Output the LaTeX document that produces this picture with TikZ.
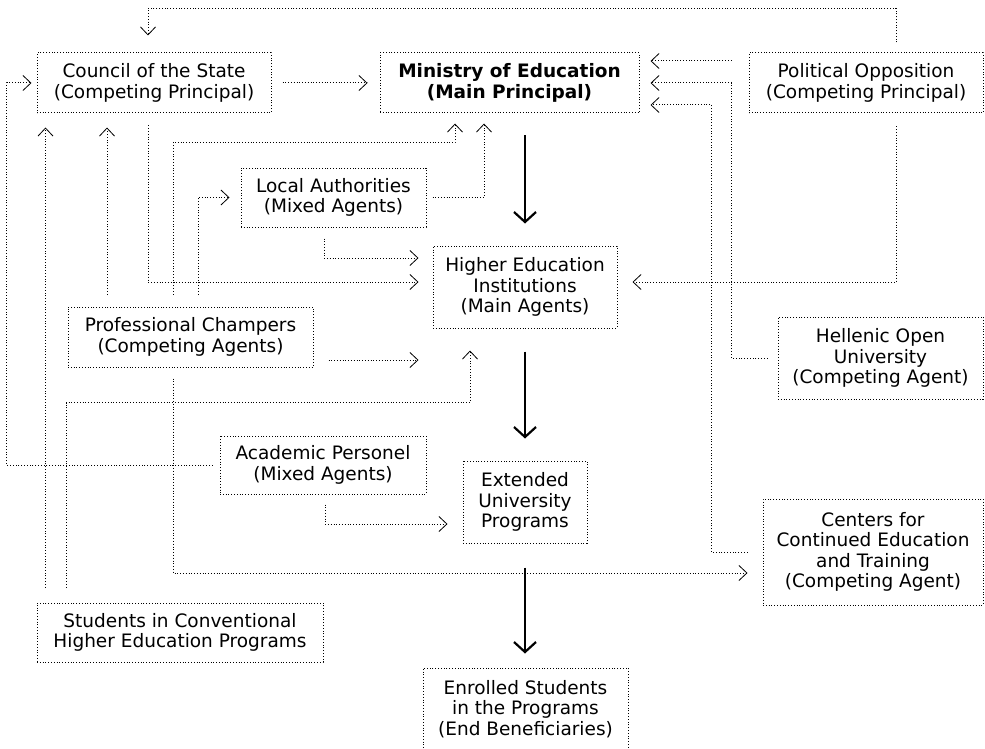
\documentclass[tikz,border=0pt]{standalone}
\usepackage{fontspec}
\setmainfont{DejaVu Sans}
\usetikzlibrary{arrows.meta}
\tikzset{
  box/.style={draw, line width=1pt, dash pattern=on 1pt off 1.8pt, align=center, inner sep=0pt,
    font=\fontsize{18.5}{20.5}\selectfont},
  link/.style={line width=1pt, dash pattern=on 1pt off 1.8pt, -{Straight Barb[length=8pt,width=15pt,line width=0.8pt]}},
  flow/.style={line width=2.2pt, -{Straight Barb[length=10pt,width=22pt]}}
}
\begin{document}
\begin{tikzpicture}[x=1pt,y=-1pt]
\useasboundingbox (0,0) rectangle (985,749);
% principals
\node[box, minimum width=234pt, minimum height=60pt] (council) at (154,83) {Council of the State\\(Competing Principal)};
\node[box, minimum width=259pt, minimum height=60pt] (ministry) at (509.5,83) {\textbf{Ministry of Education}\\\textbf{(Main Principal)}};
\node[box, minimum width=234pt, minimum height=60pt] (opposition) at (866,83) {Political Opposition\\(Competing Principal)};
% agents
\node[box, minimum width=185pt, minimum height=59pt] (local) at (333.5,197.5) {Local Authorities\\(Mixed Agents)};
\node[box, minimum width=184pt, minimum height=82pt] (hei) at (525,287) {Higher Education\\Institutions\\(Main Agents)};
\node[box, minimum width=245pt, minimum height=60pt] (champers) at (190.5,337) {Professional Champers\\(Competing Agents)};
\node[box, minimum width=205pt, minimum height=82pt] (hou) at (880.5,358) {Hellenic Open\\University\\(Competing Agent)};
\node[box, minimum width=206pt, minimum height=58pt] (personel) at (323,465) {Academic Personel\\(Mixed Agents)};
\node[box, minimum width=124pt, minimum height=82pt] (extended) at (525,502) {Extended\\University\\Programs};
\node[box, minimum width=220pt, minimum height=106pt] (centers) at (873,552) {Centers for\\Continued Education\\and Training\\(Competing Agent)};
\node[box, minimum width=286pt, minimum height=59pt] (students) at (180,632.5) {Students in Conventional\\Higher Education Programs};
\node[box, minimum width=205pt, minimum height=82pt] (enrolled) at (525.5,709) {Enrolled Students\\in the Programs\\(End Beneficiaries)};
% main chain
\draw[flow, shorten <=22pt, shorten >=22pt] ([xshift=15.5pt]ministry.south) -- (hei.north);
\draw[flow, shorten <=23pt, shorten >=22pt] (hei.south) -- (extended.north);
\draw[flow, shorten <=24pt, shorten >=14pt] (extended.south) -- ([xshift=-0.5pt]enrolled.north);
% influences on the ministry
\draw[link, shorten <=11pt, shorten >=12pt] (council) -- (ministry);
\draw[link, shorten <=17pt, shorten >=11pt] ([yshift=22pt]opposition.west) -- ([yshift=22pt]opposition.west -| ministry.east);
\draw[link, shorten <=10pt, shorten >=11pt] (hou.west) -| ([xshift=92pt]ministry.east) -- (ministry.east);
\draw[link, shorten <=15pt, shorten >=11pt] (centers.west) -| ([xshift=72pt,yshift=-22pt]ministry.east) -- ([yshift=-22pt]ministry.east);
\draw[link, shorten <=12pt, shorten >=10pt] ([xshift=-17.5pt]champers.north) |- ([xshift=-54.5pt,yshift=-29pt]ministry.south) -- ([xshift=-54.5pt]ministry.south);
\draw[link, shorten <=6pt, shorten >=10pt] (local.east) -| ([xshift=-25.5pt]ministry.south);
% influences on the council
\draw[link, shorten <=10pt, shorten >=17pt] ([xshift=30pt]opposition.north) |- ([xshift=-6pt,yshift=44pt]council.north) -- ([xshift=-6pt]council.north);
\draw[link, shorten <=12pt, shorten >=14pt] ([xshift=-83.5pt]champers.north) -- ([xshift=-83.5pt]champers.north |- council.south);
\draw[link, shorten <=15pt, shorten >=14pt] ([xshift=-134.5pt]students.north) -- ([xshift=-134.5pt]students.north |- council.south);
\draw[link, shorten <=7pt, shorten >=5pt] (personel.west) -| ([xshift=-30pt]council.west) -- (council.west);
% influences on the institutions
\draw[link, shorten <=13pt, shorten >=15pt] ([xshift=30pt]opposition.south) |- ([yshift=5pt]hei.east);
\draw[link, shorten <=12pt, shorten >=14pt] ([xshift=-6pt]council.south) |- ([yshift=5pt]hei.west);
\draw[link, shorten <=11pt, shorten >=14pt] ([xshift=-9.5pt]local.south) |- ([yshift=29pt]hei.west);
\draw[link, shorten <=15pt, shorten >=14pt] ([yshift=-23pt]champers.east) -- ([yshift=-23pt]champers.east -| hei.west);
\draw[link, shorten <=15pt, shorten >=22pt] ([xshift=-114pt]students.north) |- ([xshift=-55pt,yshift=-74pt]hei.south) -- ([xshift=-55pt]hei.south);
% other agents
\draw[link, shorten <=12pt, shorten >=11pt] ([xshift=7.5pt]champers.north) |- (local.west);
\draw[link, shorten <=10pt, shorten >=15pt] ([xshift=2pt]personel.south) |- ([yshift=-22pt]extended.west);
\draw[link, shorten <=11pt, shorten >=15pt] ([xshift=-17.5pt]champers.south) |- ([yshift=-21pt]centers.west);
\end{tikzpicture}
\end{document}
